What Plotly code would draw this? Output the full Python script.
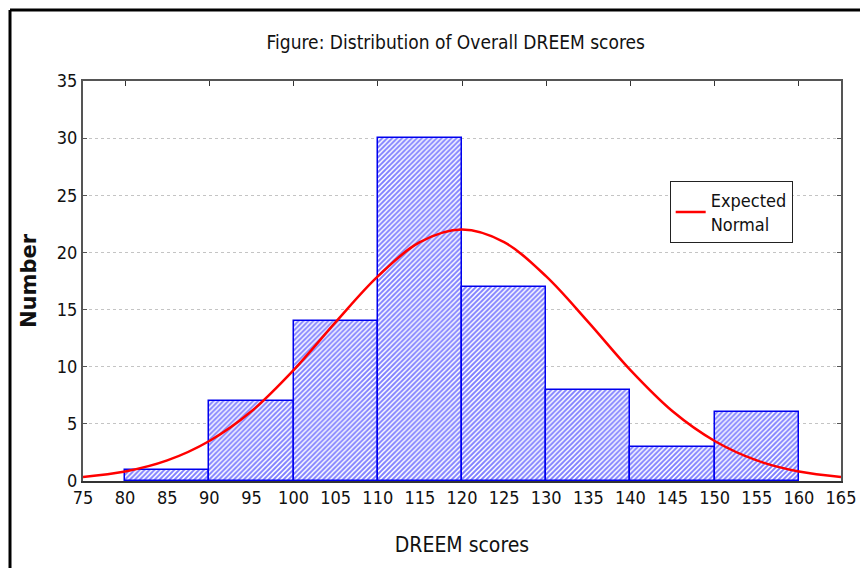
import plotly.graph_objects as go

# Histogram data
bin_centers = [85, 95, 105, 115, 125, 135, 145, 155]
counts = [1, 7, 14, 30, 17, 8, 3, 6]

# Expected normal curve
curve_x = [75, 80, 85, 90, 95, 100, 105, 110, 115, 120, 125, 130, 135, 140, 145, 150, 155, 160, 165]
curve_y = [0.36, 0.83, 1.8, 3.5, 6.1, 9.7, 13.9, 17.9, 20.9, 22.0, 20.9, 17.9, 13.9, 9.7, 6.1, 3.5, 1.8, 0.83, 0.36]

x_ticks = list(range(75, 166, 5))
y_ticks = list(range(0, 36, 5))

NARROW = "Liberation Sans Narrow, Arial Narrow, DejaVu Sans Condensed, sans-serif"
TXT = "#111111"

fig = go.Figure()
fig.add_trace(go.Bar(
    x=bin_centers, y=counts, width=10,
    marker=dict(color="white", line=dict(color="#0000ee", width=1.5),
                pattern=dict(shape="/", fgcolor="#0000ff", bgcolor="white", size=3.5, solidity=0.55)),
    showlegend=False,
))
fig.add_trace(go.Scatter(
    x=curve_x, y=curve_y, mode="lines", line=dict(color="#ff0000", width=2.5, shape="spline"),
    name="Expected<br>Normal",
))
# top axis ticks
fig.add_trace(go.Scatter(x=[75, 165], y=[None, None], xaxis="x2", showlegend=False, hoverinfo="skip"))

fig.update_layout(
    width=860, height=568,
    margin=dict(l=83, r=19, t=81, b=87, autoexpand=False),
    paper_bgcolor="white", plot_bgcolor="white",
    bargap=0,
    title=dict(text="Figure: Distribution of Overall DREEM scores", x=0.53, xanchor="center",
               y=0.925, yanchor="middle", font=dict(family=NARROW, size=19, color=TXT)),
    font=dict(family=NARROW, color=TXT),
    xaxis=dict(range=[75, 165], tickvals=x_ticks, ticktext=[str(v) for v in x_ticks],
               showgrid=False, zeroline=False, showline=True, linecolor="#333333", linewidth=1.5,
               ticks="", tickfont=dict(family=NARROW, size=18, color=TXT), automargin=False,
               title=dict(text="DREEM scores", font=dict(family=NARROW, size=21, color=TXT), standoff=30)),
    xaxis2=dict(range=[75, 165], overlaying="x", side="top", tickvals=list(range(80, 161, 10)),
                showticklabels=False, ticks="inside", ticklen=5, tickcolor="#333333",
                showline=True, linecolor="#555555", linewidth=2, showgrid=False, zeroline=False),
    yaxis=dict(range=[0, 35], tickvals=y_ticks, ticktext=[str(v) for v in y_ticks],
               showgrid=True, gridcolor="#c4c4c4", griddash="dot", gridwidth=1,
               zeroline=False, showline=True, linecolor="#555555", linewidth=2, mirror="ticks",
               ticks="inside", ticklen=4, tickcolor="#555555", automargin=False,
               tickfont=dict(family=NARROW, size=18, color=TXT),
               title=dict(text="<b>Number</b>", font=dict(family="DejaVu Sans, sans-serif", size=21, color=TXT), standoff=14)),
    legend=dict(x=0.774, y=0.75, xanchor="left", yanchor="top",
                bgcolor="white", bordercolor="#222222", borderwidth=1,
                font=dict(family=NARROW, size=18, color=TXT), itemwidth=30),
    shapes=[
        dict(type="line", xref="paper", yref="paper", x0=-0.0963, x1=1.03, y0=1.1775, y1=1.1775,
             line=dict(color="black", width=3)),
        dict(type="line", xref="paper", yref="paper", x0=-0.0963, x1=-0.0963, y0=1.1775, y1=-0.25,
             line=dict(color="black", width=3)),
    ],
)

fig.write_html("out.html", config={"displayModeBar": False},
               post_script="document.body.style.margin='0';document.body.style.overflow='hidden';")
